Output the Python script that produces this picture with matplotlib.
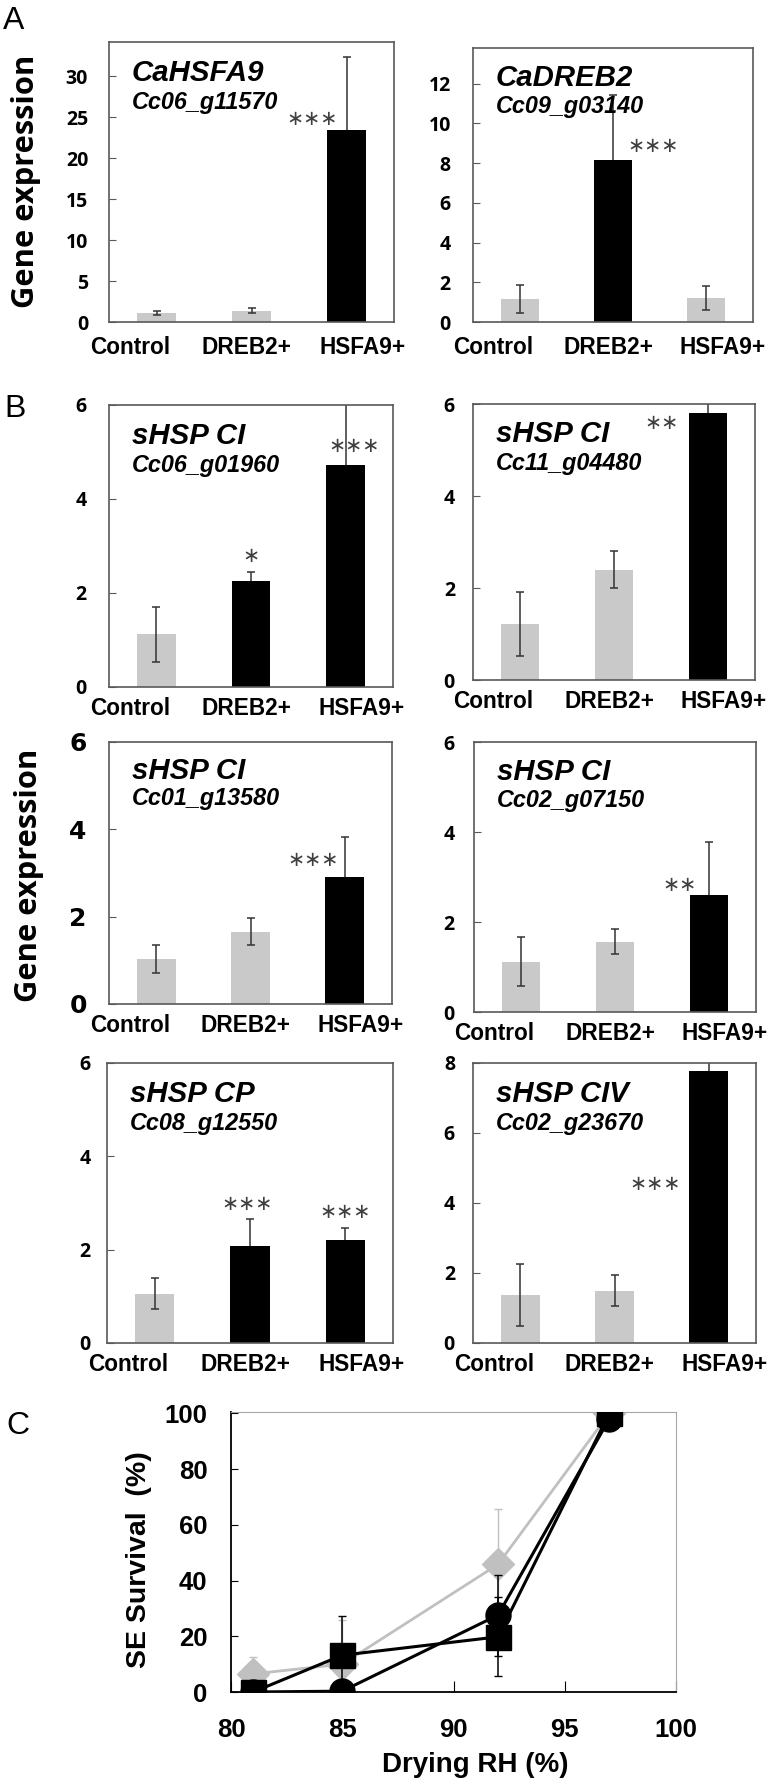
import matplotlib
matplotlib.use("Agg")
import matplotlib.pyplot as plt

# ---- data ----
groups = ["Control", "DREB2+", "HSFA9+"]

hsfa9_name = ["CaHSFA9", "Cc06_g11570"]
hsfa9_mean = [1.1, 1.4, 23.4]
hsfa9_err = [0.3, 0.3, 9.0]
hsfa9_sig = ["", "", "***"]

dreb2_name = ["CaDREB2", "Cc09_g03140"]
dreb2_mean = [1.15, 8.15, 1.2]
dreb2_err = [0.7, 3.3, 0.6]
dreb2_sig = ["", "***", ""]

g01960_name = ["sHSP CI", "Cc06_g01960"]
g01960_mean = [1.12, 2.25, 4.72]
g01960_err = [0.58, 0.2, 1.5]
g01960_sig = ["", "*", "***"]

g04480_name = ["sHSP CI", "Cc11_g04480"]
g04480_mean = [1.22, 2.4, 5.81]
g04480_err = [0.7, 0.4, 0.24]
g04480_sig = ["", "", "**"]

g13580_name = ["sHSP CI", "Cc01_g13580"]
g13580_mean = [1.03, 1.66, 2.91]
g13580_err = [0.31, 0.31, 0.91]
g13580_sig = ["", "", "***"]

g07150_name = ["sHSP CI", "Cc02_g07150"]
g07150_mean = [1.12, 1.56, 2.59]
g07150_err = [0.55, 0.28, 1.19]
g07150_sig = ["", "", "**"]

g12550_name = ["sHSP CP", "Cc08_g12550"]
g12550_mean = [1.06, 2.08, 2.21]
g12550_err = [0.34, 0.58, 0.26]
g12550_sig = ["", "***", "***"]

g23670_name = ["sHSP CIV", "Cc02_g23670"]
g23670_mean = [1.38, 1.5, 7.77]
g23670_err = [0.88, 0.43, 0.29]
g23670_sig = ["", "", "***"]

# panel C
drying_rh = [81, 85, 92, 97]
surv_control = [6.5, 10.0, 45.8, 100]
surv_control_err = [6.2, 16.0, 19.8, 0]
surv_square = [0, 13.2, 19.8, 100]
surv_square_err = [0, 14.0, 14.2, 0]
surv_circle = [0, 0.3, 27.6, 98]
surv_circle_err = [0, 0, 14.5, 0]

# ---- layout ----
W, H = 780, 1784
GRAY = "#c9c9c9"
FRAME = "#595959"


def rect(l, t, r, b):
    return [l / W, 1 - b / H, (r - l) / W, (b - t) / H]


panels = [
    (hsfa9_name, hsfa9_mean, hsfa9_err, hsfa9_sig, 34.2, 5),
    (dreb2_name, dreb2_mean, dreb2_err, dreb2_sig, 13.8, 2),
    (g01960_name, g01960_mean, g01960_err, g01960_sig, 6, 2),
    (g04480_name, g04480_mean, g04480_err, g04480_sig, 6, 2),
    (g13580_name, g13580_mean, g13580_err, g13580_sig, 6, 2),
    (g07150_name, g07150_mean, g07150_err, g07150_sig, 6, 2),
    (g12550_name, g12550_mean, g12550_err, g12550_sig, 6, 2),
    (g23670_name, g23670_mean, g23670_err, g23670_sig, 8, 2),
]

# axes box in pixels, y tick pad (pt), x label pad (pt), star positions
boxes = [
    ((109, 42, 394, 322), 15, 10, [(1.64, 24.8)]),
    ((473, 48, 753, 322), 16, 10, [(1.43, 8.85)]),
    ((109, 405, 393, 687), 16, 7, [(1.0, 2.78), (2.09, 5.12)]),
    ((473, 404, 755, 680), 13, 7, [(1.51, 5.58)]),
    ((109, 742, 392, 1004), 16, 7, [(1.66, 3.3)]),
    ((474, 742, 756, 1012), 14, 7, [(1.69, 2.83)]),
    ((107, 1063, 393, 1343), 12, 7, [(0.97, 2.98), (2.0, 2.80)]),
    ((473, 1063, 756, 1343), 13, 7, [(1.43, 4.55)]),
]

fig = plt.figure(figsize=(W / 100, H / 100), dpi=100)

for i, (name, mean, err, sig, ymax, step) in enumerate(panels):
    box, ypad, xpad, stars = boxes[i]
    ax = fig.add_axes(rect(*box))
    for j, grp in enumerate(groups):
        color = "black" if sig[j] else GRAY
        ax.bar(j, mean[j], width=0.41, color=color, zorder=2)
        # black bars hide the lower half of their error bar
        ax.errorbar(j, mean[j], yerr=err[j], fmt="none", ecolor="#333333",
                    elinewidth=1.1, capsize=3, capthick=1.1,
                    zorder=1 if sig[j] else 3)
    ax.set_xlim(-0.5, 2.5)
    ax.set_ylim(0, ymax)
    ticks = list(range(0, int(ymax) + 1, step))
    ax.set_yticks(ticks)
    if i == 4:
        ax.set_yticklabels([str(t) for t in ticks],
                           family=["Liberation Sans Narrow", "DejaVu Sans"],
                           fontweight="bold", fontsize=18)
    else:
        ax.set_yticklabels([str(t) for t in ticks], family="Open Sans",
                           fontweight="bold", fontsize=14)
    ax.tick_params(axis="y", direction="in", length=5, color=FRAME, pad=ypad)
    ax.set_xticks([-0.28, 0.95, 2.17])
    ax.set_xticklabels(groups, family="Liberation Sans", fontweight="bold",
                       fontsize=16.3)
    ax.tick_params(axis="x", length=0, pad=xpad)
    for sp in ax.spines.values():
        sp.set_color(FRAME)
        sp.set_linewidth(1.2)
    ax.text(0.08, 0.89, name[0], transform=ax.transAxes, family="Liberation Sans",
            fontweight="bold", style="italic", fontsize=21.2, va="center")
    ax.text(0.08, 0.785, name[1], transform=ax.transAxes, family="Liberation Sans",
            fontweight="bold", style="italic", fontsize=16.8, va="center")
    labels = [s for s in sig if s]
    for lab, (sx, sy) in zip(labels, stars):
        ax.text(sx, sy, "\u2217" * len(lab), ha="center", va="center",
                fontsize=14.8, color="#404040", family="DejaVu Sans")

# y labels for bar panels
for cx, cy in [(26, 181), (29, 875)]:
    fig.text(cx / W, 1 - cy / H, "Gene expression", rotation=90, ha="center",
             va="center", family="Open Sans", fontweight="bold", fontsize=22.2)

# panel letters
for letter, lx, ly in [("A", 14, 21), ("B", 15, 409), ("C", 18, 1426)]:
    fig.text(lx / W, 1 - ly / H, letter, ha="center", va="center",
             family="Liberation Sans", fontsize=23)

# ---- panel C ----
axc = fig.add_axes(rect(231, 1412, 676, 1692))
axc.errorbar(drying_rh, surv_control, yerr=surv_control_err, color="#c0c0c0",
             marker="D", ms=16, lw=2, elinewidth=1, capsize=3, zorder=2)
axc.errorbar(drying_rh, surv_circle, yerr=surv_circle_err, color="black",
             marker="o", ms=18, lw=2.2, elinewidth=1.1, capsize=3, zorder=3)
axc.errorbar(drying_rh, surv_square, yerr=surv_square_err, color="black",
             marker="s", ms=18, lw=2.2, elinewidth=1.1, capsize=3, zorder=4)
axc.set_xlim(80, 100)
axc.set_ylim(0, 100.5)
axc.set_xticks([80, 85, 90, 95, 100])
axc.set_yticks([0, 20, 40, 60, 80, 100])
for lab in axc.get_xticklabels() + axc.get_yticklabels():
    lab.set_family("Liberation Sans")
    lab.set_fontweight("bold")
    lab.set_fontsize(18.5)
axc.tick_params(axis="y", direction="in", length=5, pad=17)
axc.tick_params(axis="x", direction="in", length=8, pad=19)
axc.spines["left"].set_linewidth(1.3)
axc.spines["bottom"].set_linewidth(1.3)
axc.spines["top"].set_color("#a6a6a6")
axc.spines["right"].set_color("#a6a6a6")
fig.text(139 / W, 1 - 1560 / H, "SE Survival  (%)", rotation=90, ha="center",
         va="center", family="Liberation Sans", fontweight="bold", fontsize=20.5)
fig.text(475 / W, 1 - 1765 / H, "Drying RH (%)", ha="center", va="center",
         family="Liberation Sans", fontweight="bold", fontsize=20)

fig.savefig("out.png", dpi=100)
